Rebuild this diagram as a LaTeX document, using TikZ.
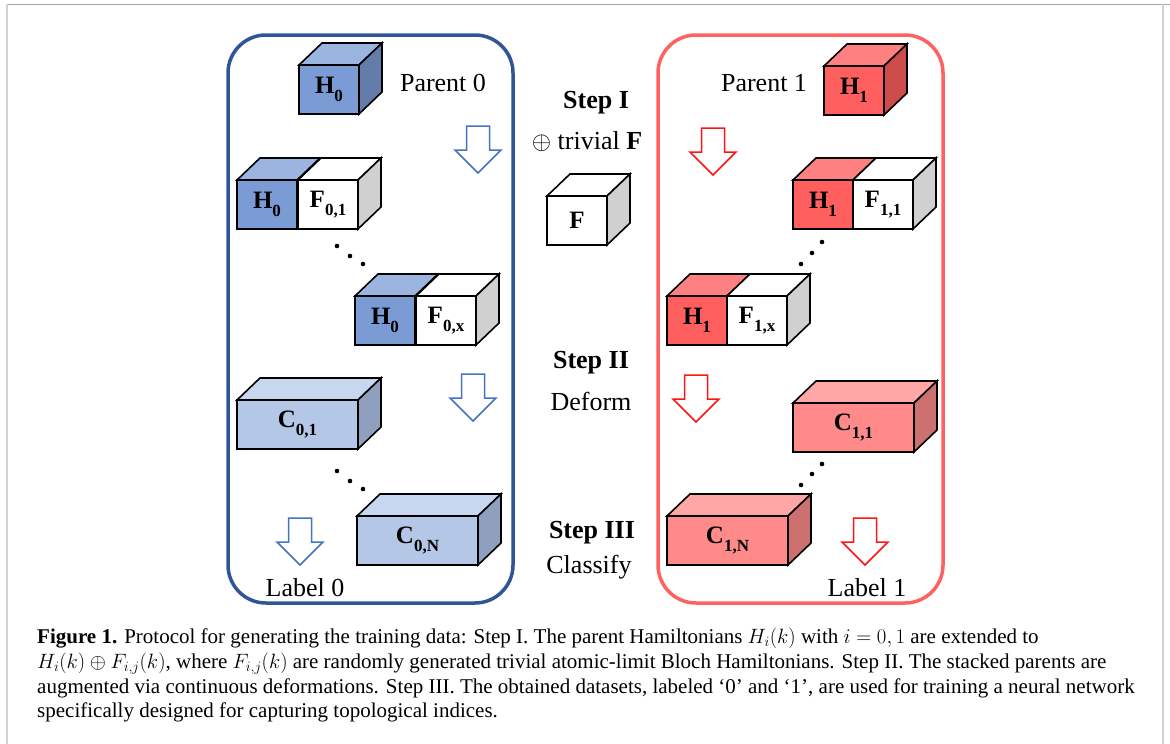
\documentclass[tikz,border=0pt]{standalone}
\usepackage{fontspec}
\setmainfont{Liberation Serif}
\usetikzlibrary{calc}
\definecolor{bluebox}{RGB}{47,85,151}
\definecolor{redbox}{RGB}{255,97,97}
\definecolor{hzf}{RGB}{123,155,212}
\definecolor{hzt}{RGB}{156,180,224}
\definecolor{hzs}{RGB}{100,124,170}
\definecolor{czf}{RGB}{180,199,231}
\definecolor{czt}{RGB}{200,215,240}
\definecolor{czs}{RGB}{143,160,190}
\definecolor{hof}{RGB}{255,95,95}
\definecolor{hot}{RGB}{255,128,128}
\definecolor{hos}{RGB}{204,75,75}
\definecolor{cof}{RGB}{255,138,138}
\definecolor{cot}{RGB}{255,166,166}
\definecolor{cos}{RGB}{204,112,112}
\definecolor{graysd}{RGB}{208,208,208}
\definecolor{bluearrow}{RGB}{68,114,196}
\definecolor{redarrow}{RGB}{255,20,20}
\newcommand\sbs[1]{\raisebox{-0.3em}{\fontsize{17}{17}\selectfont #1}}
\newcommand\cubetop[3]{\filldraw[fill=#3, cubeedge] (#1.north west) -- ++(23,-22) -- ($(#2.north east)+(23,-22)$) -- (#2.north east) -- cycle;}
\newcommand\cubeside[2]{\filldraw[fill=#2, cubeedge] (#1.north east) -- ++(23,-22) -- ($(#1.south east)+(23,-22)$) -- (#1.south east) -- cycle;}
\newcommand\hollowarrow[3]{\draw[draw=#3, line width=1.5pt, fill=white] (#1-11.5,#2) -- (#1+11.5,#2) -- (#1+11.5,#2+24) -- (#1+23,#2+24) -- (#1,#2+47) -- (#1-23,#2+24) -- (#1-11.5,#2+24) -- cycle;}
\tikzset{
  cubeedge/.style={draw=black, line width=1.6pt, line join=miter},
  face/.style={cubeedge, inner sep=0pt, outer sep=0pt, anchor=north west, minimum height=49pt, font=\fontsize{25}{25}\selectfont\bfseries},
  unitface/.style={face, minimum width=60pt},
  longface/.style={face, minimum width=121pt},
  lbl/.style={inner sep=0pt, font=\fontsize{26}{26}\selectfont},
  stepl/.style={inner sep=0pt, font=\fontsize{26}{26}\selectfont\bfseries},
  capt/.style={anchor=base west, inner sep=0pt, font=\fontsize{21}{21}\selectfont},
  dot/.style={fill=black},
}
\begin{document}
\begin{tikzpicture}[x=1pt,y=-1pt]
\useasboundingbox (0,0) rectangle (1170,744);
% page frame
\draw[gray!70, line width=1pt] (7,4) -- (1170,4);
\draw[gray!35, line width=2pt] (7,4) -- (7,744);
\draw[gray!35, line width=2pt] (1163,4) -- (1163,744);
% group boxes
\draw[bluebox, line width=3.5pt, rounded corners=38pt] (228,35) rectangle (513,603);
\draw[redbox, line width=3.5pt, rounded corners=38pt] (658,35) rectangle (943,603);

% ---- left column ----
\node[unitface, fill=hzf] (h0) at (299,65) {H\sbs{0}};
\cubetop{h0}{h0}{hzt}\cubeside{h0}{hzs}
\node[lbl] (parent0) at (443,83) {Parent 0};
\hollowarrow{478}{126}{bluearrow}
\node[unitface, fill=hzf] (h0a) at (237,180) {H\sbs{0}};
\node[unitface, fill=white] (f01) at (298,180) {F\sbs{0,1}};
\cubetop{h0a}{h0a}{hzt}\cubetop{f01}{f01}{white}\cubeside{f01}{graysd}
\fill[dot] (337,246) circle (2.3); \fill[dot] (350,256) circle (2.3); \fill[dot] (363,264) circle (2.3);
\node[unitface, fill=hzf] (h0b) at (355,296) {H\sbs{0}};
\node[unitface, fill=white] (f0x) at (416,296) {F\sbs{0,x}};
\cubetop{h0b}{h0b}{hzt}\cubetop{f0x}{f0x}{white}\cubeside{f0x}{graysd}
\hollowarrow{473}{374}{bluearrow}
\node[longface, fill=czf] (c01) at (237,400) {C\sbs{0,1}};
\cubetop{c01}{c01}{czt}\cubeside{c01}{czs}
\fill[dot] (337,471) circle (2.3); \fill[dot] (350,481) circle (2.3); \fill[dot] (363,489) circle (2.3);
\node[longface, fill=czf] (c0n) at (357,516) {C\sbs{0,N}};
\cubetop{c0n}{c0n}{czt}\cubeside{c0n}{czs}
\hollowarrow{300}{518}{bluearrow}
\node[lbl] (label0) at (305,588) {Label 0};

% ---- centre ----
\node[stepl] (step1) at (596,103) {Step I};
\node[lbl] (triv) at (587,142) {$\oplus$ trivial \textbf{F}};
\node[unitface, fill=white] (fc) at (547,196) {F};
\cubetop{fc}{fc}{white}\cubeside{fc}{graysd}
\node[stepl] (step2) at (591,363) {Step II};
\node[lbl] (deform) at (591,401) {Deform};
\node[stepl] (step3) at (592,533) {Step III};
\node[lbl] (classify) at (589,567) {Classify};

% ---- right column ----
\node[unitface, fill=hof] (h1) at (824,66) {H\sbs{1}};
\cubetop{h1}{h1}{hot}\cubeside{h1}{hos}
\node[lbl] (parent1) at (764,83) {Parent 1};
\hollowarrow{713}{128}{redarrow}
\node[unitface, fill=hof] (h1a) at (793,180) {H\sbs{1}};
\node[unitface, fill=white] (f11) at (853,180) {F\sbs{1,1}};
\cubetop{h1a}{h1a}{hot}\cubetop{f11}{f11}{white}\cubeside{f11}{graysd}
\fill[dot] (822,242) circle (2.3); \fill[dot] (812,253) circle (2.3); \fill[dot] (801,264) circle (2.3);
\node[unitface, fill=hof] (h1b) at (667,296) {H\sbs{1}};
\node[unitface, fill=white] (f1x) at (727,296) {F\sbs{1,x}};
\cubetop{h1b}{h1b}{hot}\cubetop{f1x}{f1x}{white}\cubeside{f1x}{graysd}
\hollowarrow{696}{375}{redarrow}
\node[longface, fill=cof] (c11) at (793,403) {C\sbs{1,1}};
\cubetop{c11}{c11}{cot}\cubeside{c11}{cos}
\fill[dot] (822,464) circle (2.3); \fill[dot] (812,474) circle (2.3); \fill[dot] (801,485) circle (2.3);
\node[longface, fill=cof] (c1n) at (667,516) {C\sbs{1,N}};
\cubetop{c1n}{c1n}{cot}\cubeside{c1n}{cos}
\hollowarrow{865}{518}{redarrow}
\node[lbl] (label1) at (867,588) {Label 1};

% ---- caption ----
\node[capt] (cap1) at (37,643) {\textbf{Figure 1.} Protocol for generating the training data: Step I. The parent Hamiltonians $H_i(k)$ with $i=0,1$ are extended to};
\node[capt] (cap2) at (37,668) {$H_i(k)\oplus F_{i,j}(k)$, where $F_{i,j}(k)$ are randomly generated trivial atomic-limit Bloch Hamiltonians. Step II. The stacked parents are};
\node[capt] (cap3) at (37,693) {augmented via continuous deformations. Step III. The obtained datasets, labeled ‘0’ and ‘1’, are used for training a neural network};
\node[capt] (cap4) at (37,717) {specifically designed for capturing topological indices.};
\end{tikzpicture}
\end{document}
